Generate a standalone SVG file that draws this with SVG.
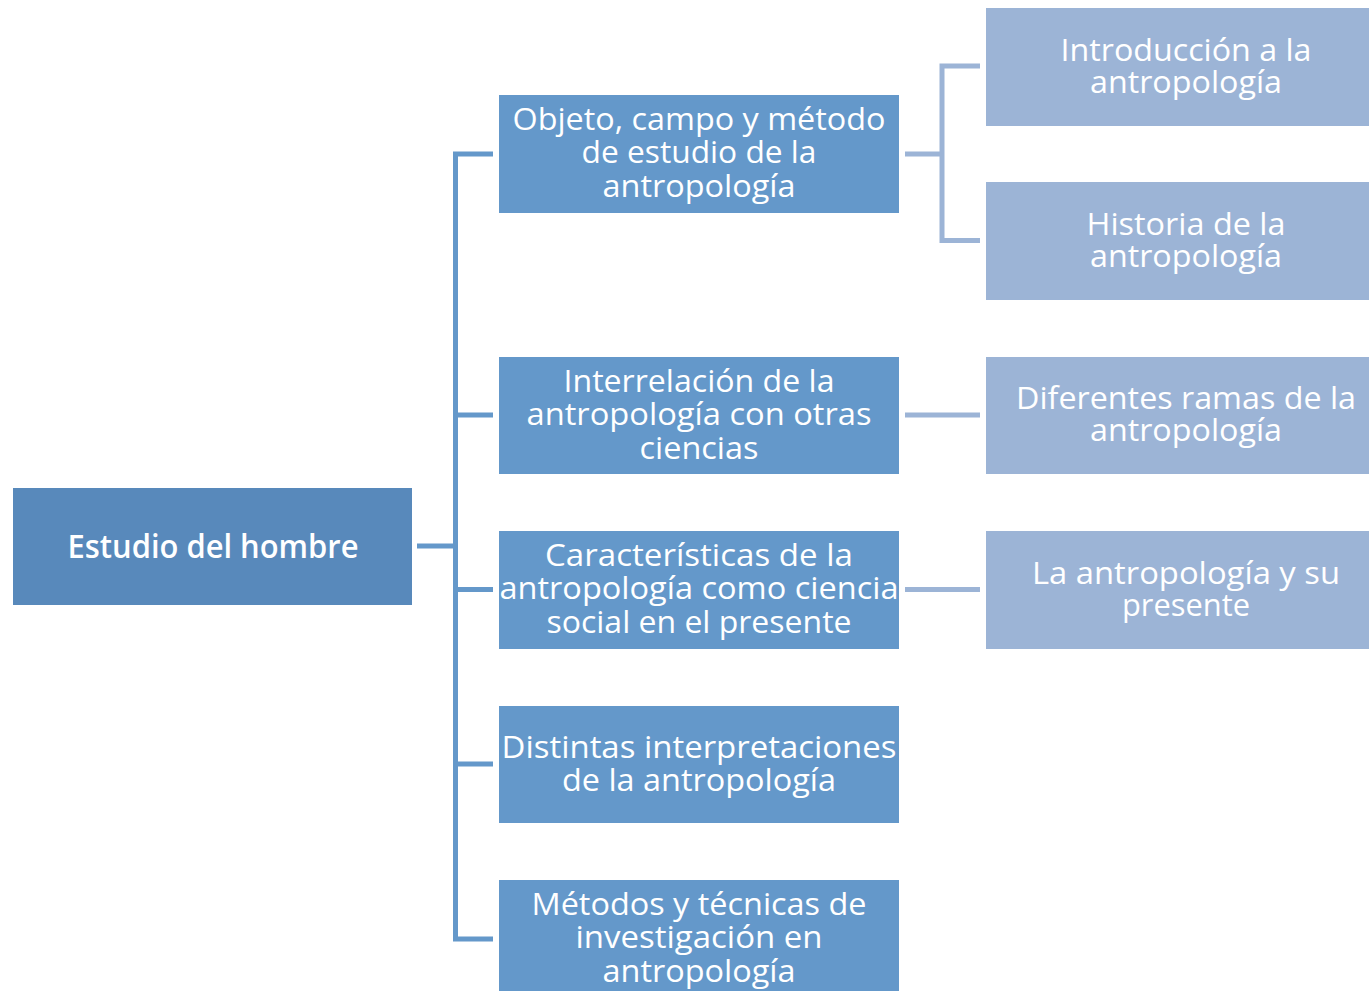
<svg xmlns="http://www.w3.org/2000/svg" width="1369" height="991" viewBox="0 0 1369 991">
<style>
.t{font-family:"Open Sans","DejaVu Sans",sans-serif;font-size:31px;fill:#ffffff;text-anchor:middle}
.r{font-weight:600;font-size:32px}
.root{fill:#5889bb}
.mid{fill:#6498ca}
.side{fill:#9cb4d6}
.c1{fill:none;stroke:#6498ca;stroke-width:5}
.c2{fill:none;stroke:#9cb4d6;stroke-width:5}
</style>
<rect width="1369" height="991" fill="#ffffff"/>
<g id="connectors">
<path class="c1" d="M417,546 H455.5"/>
<path class="c1" d="M493,154 H455.5 V939 H493"/>
<path class="c1" d="M455.5,415 H493"/>
<path class="c1" d="M455.5,589.5 H493"/>
<path class="c1" d="M455.5,764 H493"/>
<path class="c2" d="M905,154 H942"/>
<path class="c2" d="M980,66 H942 V240.5 H980"/>
<path class="c2" d="M905,415 H980"/>
<path class="c2" d="M905,589.5 H980"/>
</g>
<g id="root">
<rect class="root" x="13" y="488" width="399" height="117"/>
<text class="t r" x="213" y="558" textLength="291" lengthAdjust="spacingAndGlyphs">Estudio del hombre</text>
</g>
<g id="n1">
<rect class="mid" x="499" y="95" width="400" height="118"/>
<text class="t" x="699" y="130" textLength="373" lengthAdjust="spacingAndGlyphs">Objeto, campo y método</text>
<text class="t" x="699" y="163" textLength="235" lengthAdjust="spacingAndGlyphs">de estudio de la</text>
<text class="t" x="699" y="197" textLength="193" lengthAdjust="spacingAndGlyphs">antropología</text>
</g>
<g id="n2">
<rect class="mid" x="499" y="357" width="400" height="117"/>
<text class="t" x="699" y="392" textLength="271" lengthAdjust="spacingAndGlyphs">Interrelación de la</text>
<text class="t" x="699" y="425" textLength="345" lengthAdjust="spacingAndGlyphs">antropología con otras</text>
<text class="t" x="699" y="459" textLength="119" lengthAdjust="spacingAndGlyphs">ciencias</text>
</g>
<g id="n3">
<rect class="mid" x="499" y="531" width="400" height="118"/>
<text class="t" x="699" y="566" textLength="308" lengthAdjust="spacingAndGlyphs">Características de la</text>
<text class="t" x="699" y="599" textLength="399" lengthAdjust="spacingAndGlyphs">antropología como ciencia</text>
<text class="t" x="699" y="633" textLength="305" lengthAdjust="spacingAndGlyphs">social en el presente</text>
</g>
<g id="n4">
<rect class="mid" x="499" y="706" width="400" height="117"/>
<text class="t" x="699" y="758" textLength="395" lengthAdjust="spacingAndGlyphs">Distintas interpretaciones</text>
<text class="t" x="699" y="791" textLength="274" lengthAdjust="spacingAndGlyphs">de la antropología</text>
</g>
<g id="n5">
<rect class="mid" x="499" y="880" width="400" height="117"/>
<text class="t" x="699" y="915" textLength="335" lengthAdjust="spacingAndGlyphs">Métodos y técnicas de</text>
<text class="t" x="699" y="948" textLength="247" lengthAdjust="spacingAndGlyphs">investigación en</text>
<text class="t" x="699" y="982" textLength="193" lengthAdjust="spacingAndGlyphs">antropología</text>
</g>
<g id="s1">
<rect class="side" x="986" y="8" width="400" height="118"/>
<text class="t" x="1186" y="61" textLength="251" lengthAdjust="spacingAndGlyphs">Introducción a la</text>
<text class="t" x="1186" y="93" textLength="192" lengthAdjust="spacingAndGlyphs">antropología</text>
</g>
<g id="s2">
<rect class="side" x="986" y="182" width="400" height="118"/>
<text class="t" x="1186" y="235" textLength="199" lengthAdjust="spacingAndGlyphs">Historia de la</text>
<text class="t" x="1186" y="267" textLength="192" lengthAdjust="spacingAndGlyphs">antropología</text>
</g>
<g id="s3">
<rect class="side" x="986" y="357" width="400" height="117"/>
<text class="t" x="1186" y="409" textLength="340" lengthAdjust="spacingAndGlyphs">Diferentes ramas de la</text>
<text class="t" x="1186" y="441" textLength="192" lengthAdjust="spacingAndGlyphs">antropología</text>
</g>
<g id="s4">
<rect class="side" x="986" y="531" width="400" height="118"/>
<text class="t" x="1186" y="584" textLength="308" lengthAdjust="spacingAndGlyphs">La antropología y su</text>
<text class="t" x="1186" y="616" textLength="128" lengthAdjust="spacingAndGlyphs">presente</text>
</g>
</svg>
